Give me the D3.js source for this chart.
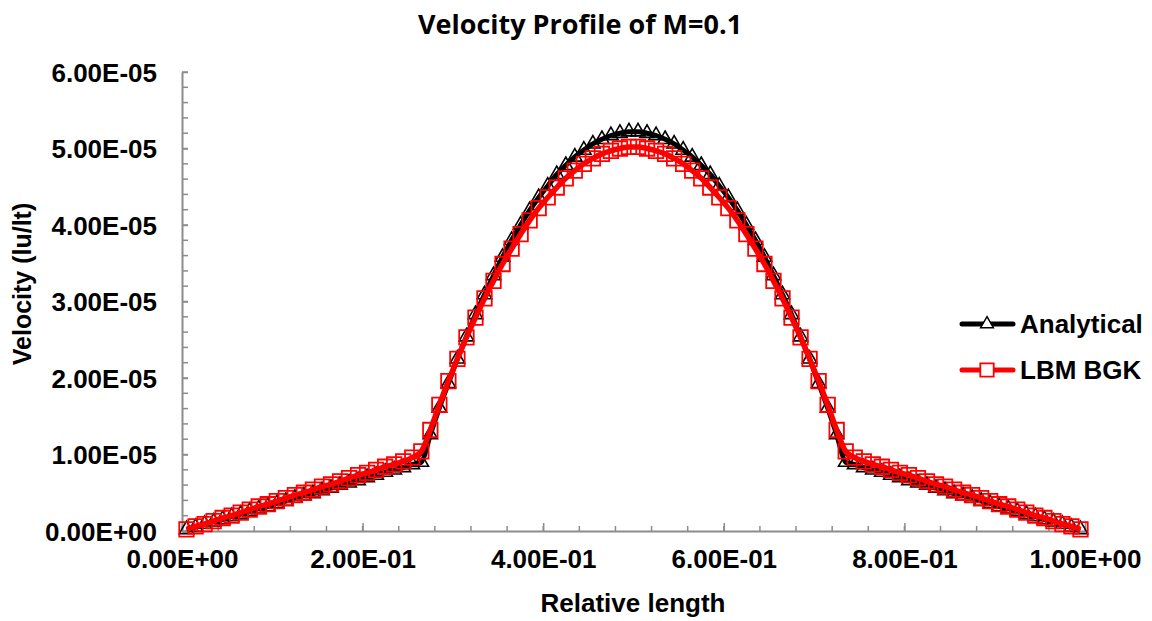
<html>
<head>
<script src="https://d3js.org/d3.v7.min.js"></script>
<style>
  body { margin: 0; background: #fff; }
  text { font-family: "Liberation Sans", Arial, sans-serif; font-weight: bold; fill: #000; }
</style>
</head>
<body>
<svg id="chart" width="1152" height="621"></svg>
<script>
// relative position across the channel
const relLength = [
  0.005,0.015,0.025,0.035,0.045,0.055,0.065,0.075,0.085,0.095,
  0.105,0.115,0.125,0.135,0.145,0.155,0.165,0.175,0.185,0.195,
  0.205,0.215,0.225,0.235,0.245,0.255,0.265,0.275,0.285,0.295,
  0.305,0.315,0.325,0.335,0.345,0.355,0.365,0.375,0.385,0.395,
  0.405,0.415,0.425,0.435,0.445,0.455,0.465,0.475,0.485,0.495,
  0.505,0.515,0.525,0.535,0.545,0.555,0.565,0.575,0.585,0.595,
  0.605,0.615,0.625,0.635,0.645,0.655,0.665,0.675,0.685,0.695,
  0.705,0.715,0.725,0.735,0.745,0.755,0.765,0.775,0.785,0.795,
  0.805,0.815,0.825,0.835,0.845,0.855,0.865,0.875,0.885,0.895,
  0.905,0.915,0.925,0.935,0.945,0.955,0.965,0.975,0.985,0.995
];

// velocities, in units of 1e-5 lu/lt
const analytical = [
  0.02,0.05,0.09,0.12,0.15,0.19,0.22,0.26,0.29,0.32,
  0.36,0.39,0.43,0.46,0.49,0.53,0.56,0.60,0.63,0.66,
  0.70,0.73,0.77,0.80,0.83,0.87,0.90,1.26,1.61,1.93,
  2.25,2.54,2.83,3.09,3.34,3.58,3.80,4.00,4.19,4.36,
  4.51,4.66,4.78,4.89,4.98,5.06,5.12,5.17,5.20,5.22,
  5.22,5.20,5.17,5.12,5.06,4.98,4.89,4.78,4.66,4.51,
  4.36,4.19,4.00,3.80,3.58,3.34,3.09,2.83,2.54,2.25,
  1.93,1.61,1.26,0.90,0.87,0.83,0.80,0.77,0.73,0.70,
  0.66,0.63,0.60,0.56,0.53,0.49,0.46,0.43,0.39,0.36,
  0.32,0.29,0.26,0.22,0.19,0.15,0.12,0.09,0.05,0.02
];
const lbmBgk = [
  0.02,0.06,0.09,0.13,0.17,0.20,0.24,0.28,0.32,0.35,
  0.39,0.43,0.47,0.50,0.54,0.58,0.61,0.65,0.69,0.73,
  0.76,0.80,0.84,0.87,0.91,0.96,1.04,1.32,1.65,1.96,
  2.25,2.53,2.79,3.04,3.27,3.49,3.69,3.88,4.06,4.22,
  4.36,4.49,4.61,4.71,4.80,4.87,4.93,4.97,5.00,5.02,
  5.02,5.00,4.97,4.93,4.87,4.80,4.71,4.61,4.49,4.36,
  4.22,4.06,3.88,3.69,3.49,3.27,3.04,2.79,2.53,2.25,
  1.96,1.65,1.32,1.04,0.96,0.91,0.87,0.84,0.80,0.76,
  0.73,0.69,0.65,0.61,0.58,0.54,0.50,0.47,0.43,0.39,
  0.35,0.32,0.28,0.24,0.20,0.17,0.13,0.09,0.06,0.02
];

const xTicks = [0, 0.2, 0.4, 0.6, 0.8, 1.0];
const yTicks = [0, 1e-5, 2e-5, 3e-5, 4e-5, 5e-5, 6e-5];
const seriesNames = ["Analytical", "LBM BGK"];

const svg = d3.select("#chart");
const x = d3.scaleLinear().domain([0, 1]).range([182, 1085]);
const y = d3.scaleLinear().domain([0, 6e-5]).range([531, 72]);

// scientific labels like Excel: 2.00E-01
function sci(v) {
  if (v === 0) return "0.00E+00";
  const e = Math.floor(Math.log10(Math.abs(v)) + 1e-9);
  const m = v / Math.pow(10, e);
  const es = (e < 0 ? "-" : "+") + String(Math.abs(e)).padStart(2, "0");
  return m.toFixed(2) + "E" + es;
}

const axisColor = "#8c8c8c";

// minor ticks
const g = svg.append("g");
g.selectAll("line.xminor").data(d3.range(0, 1.0001, 0.04))
  .join("line").attr("class", "xminor")
  .attr("x1", d => x(d)).attr("x2", d => x(d))
  .attr("y1", y(0)).attr("y2", y(0) - 5)
  .attr("stroke", axisColor).attr("stroke-width", 1.5);
g.selectAll("line.yminor").data(d3.range(0, 6.0001e-5, 0.2e-5))
  .join("line").attr("class", "yminor")
  .attr("x1", x(0)).attr("x2", x(0) + 6)
  .attr("y1", d => y(d)).attr("y2", d => y(d))
  .attr("stroke", axisColor).attr("stroke-width", 1.5);

// axes
const xAxis = svg.append("g").attr("transform", `translate(0,${y(0)})`)
  .call(d3.axisBottom(x).tickValues(xTicks).tickSizeInner(-8).tickSizeOuter(0).tickPadding(19).tickFormat(sci));
const yAxis = svg.append("g").attr("transform", `translate(${x(0)},0)`)
  .call(d3.axisLeft(y).tickValues(yTicks).tickSizeInner(-6).tickSizeOuter(0).tickPadding(25).tickFormat(sci));
[xAxis, yAxis].forEach(a => {
  a.select(".domain").attr("stroke", axisColor).attr("stroke-width", 2);
  a.selectAll(".tick line").attr("stroke", axisColor).attr("stroke-width", 1.5);
  a.selectAll(".tick text").style("font-size", "26px").attr("fill", "#000");
});
yAxis.selectAll(".tick text").attr("dy", "0.35em");

// series
const lineGen = d3.line().x(d => x(d[0])).y(d => y(d[1] * 1e-5)).curve(d3.curveMonotoneX);
const dataA = relLength.map((r, i) => [r, analytical[i]]);
const dataB = relLength.map((r, i) => [r, lbmBgk[i]]);
const tri = d3.symbol(d3.symbolTriangle, 90);
const sq = d3.symbol(d3.symbolSquare, 210);

svg.append("path").datum(dataA).attr("d", lineGen)
  .attr("fill", "none").attr("stroke", "#000").attr("stroke-width", 5);
svg.selectAll("path.triA").data(dataA).join("path").attr("class", "triA")
  .attr("d", tri).attr("transform", d => `translate(${x(d[0])},${y(d[1] * 1e-5)})`)
  .attr("fill", "none").attr("stroke", "#000").attr("stroke-width", 1.6);

svg.append("path").datum(dataB).attr("d", lineGen)
  .attr("fill", "none").attr("stroke", "#ff0000").attr("stroke-width", 5.5);
svg.selectAll("path.sqB").data(dataB).join("path").attr("class", "sqB")
  .attr("d", sq).attr("transform", d => `translate(${x(d[0])},${y(d[1] * 1e-5)})`)
  .attr("fill", "none").attr("stroke", "#ff0000").attr("stroke-width", 1.8);

// legend
const legend = svg.append("g");
const legY = [324, 370];
const legColors = ["#000", "#ff0000"];
legend.selectAll("line").data(seriesNames).join("line")
  .attr("x1", 962).attr("x2", 1013)
  .attr("y1", (d, i) => legY[i]).attr("y2", (d, i) => legY[i])
  .attr("stroke", (d, i) => legColors[i]).attr("stroke-width", 5).attr("stroke-linecap", "round");
legend.append("path").attr("d", d3.symbol(d3.symbolTriangle, 70)).attr("transform", `translate(987,${legY[0]})`)
  .attr("fill", "#fff").attr("stroke", "#000").attr("stroke-width", 1.5);
legend.append("path").attr("d", d3.symbol(d3.symbolSquare, 180)).attr("transform", `translate(987,${legY[1]})`)
  .attr("fill", "#fff").attr("stroke", "#ff0000").attr("stroke-width", 1.8);
legend.selectAll("text").data(seriesNames).join("text")
  .attr("x", 1020).attr("y", (d, i) => legY[i]).attr("dy", "0.35em")
  .style("font-size", "26px").text(d => d);

// titles
svg.append("text").attr("x", 580).attr("y", 34).attr("text-anchor", "middle")
  .style("font-family", "'Open Sans', sans-serif").style("font-size", "27px")
  .text("Velocity Profile of M=0.1");
svg.append("text").attr("x", 633).attr("y", 612).attr("text-anchor", "middle")
  .style("font-size", "26px").text("Relative length");
svg.append("text").attr("transform", "translate(31,284) rotate(-90)").attr("text-anchor", "middle")
  .style("font-size", "25px").text("Velocity (lu/lt)");
</script>
</body>
</html>
